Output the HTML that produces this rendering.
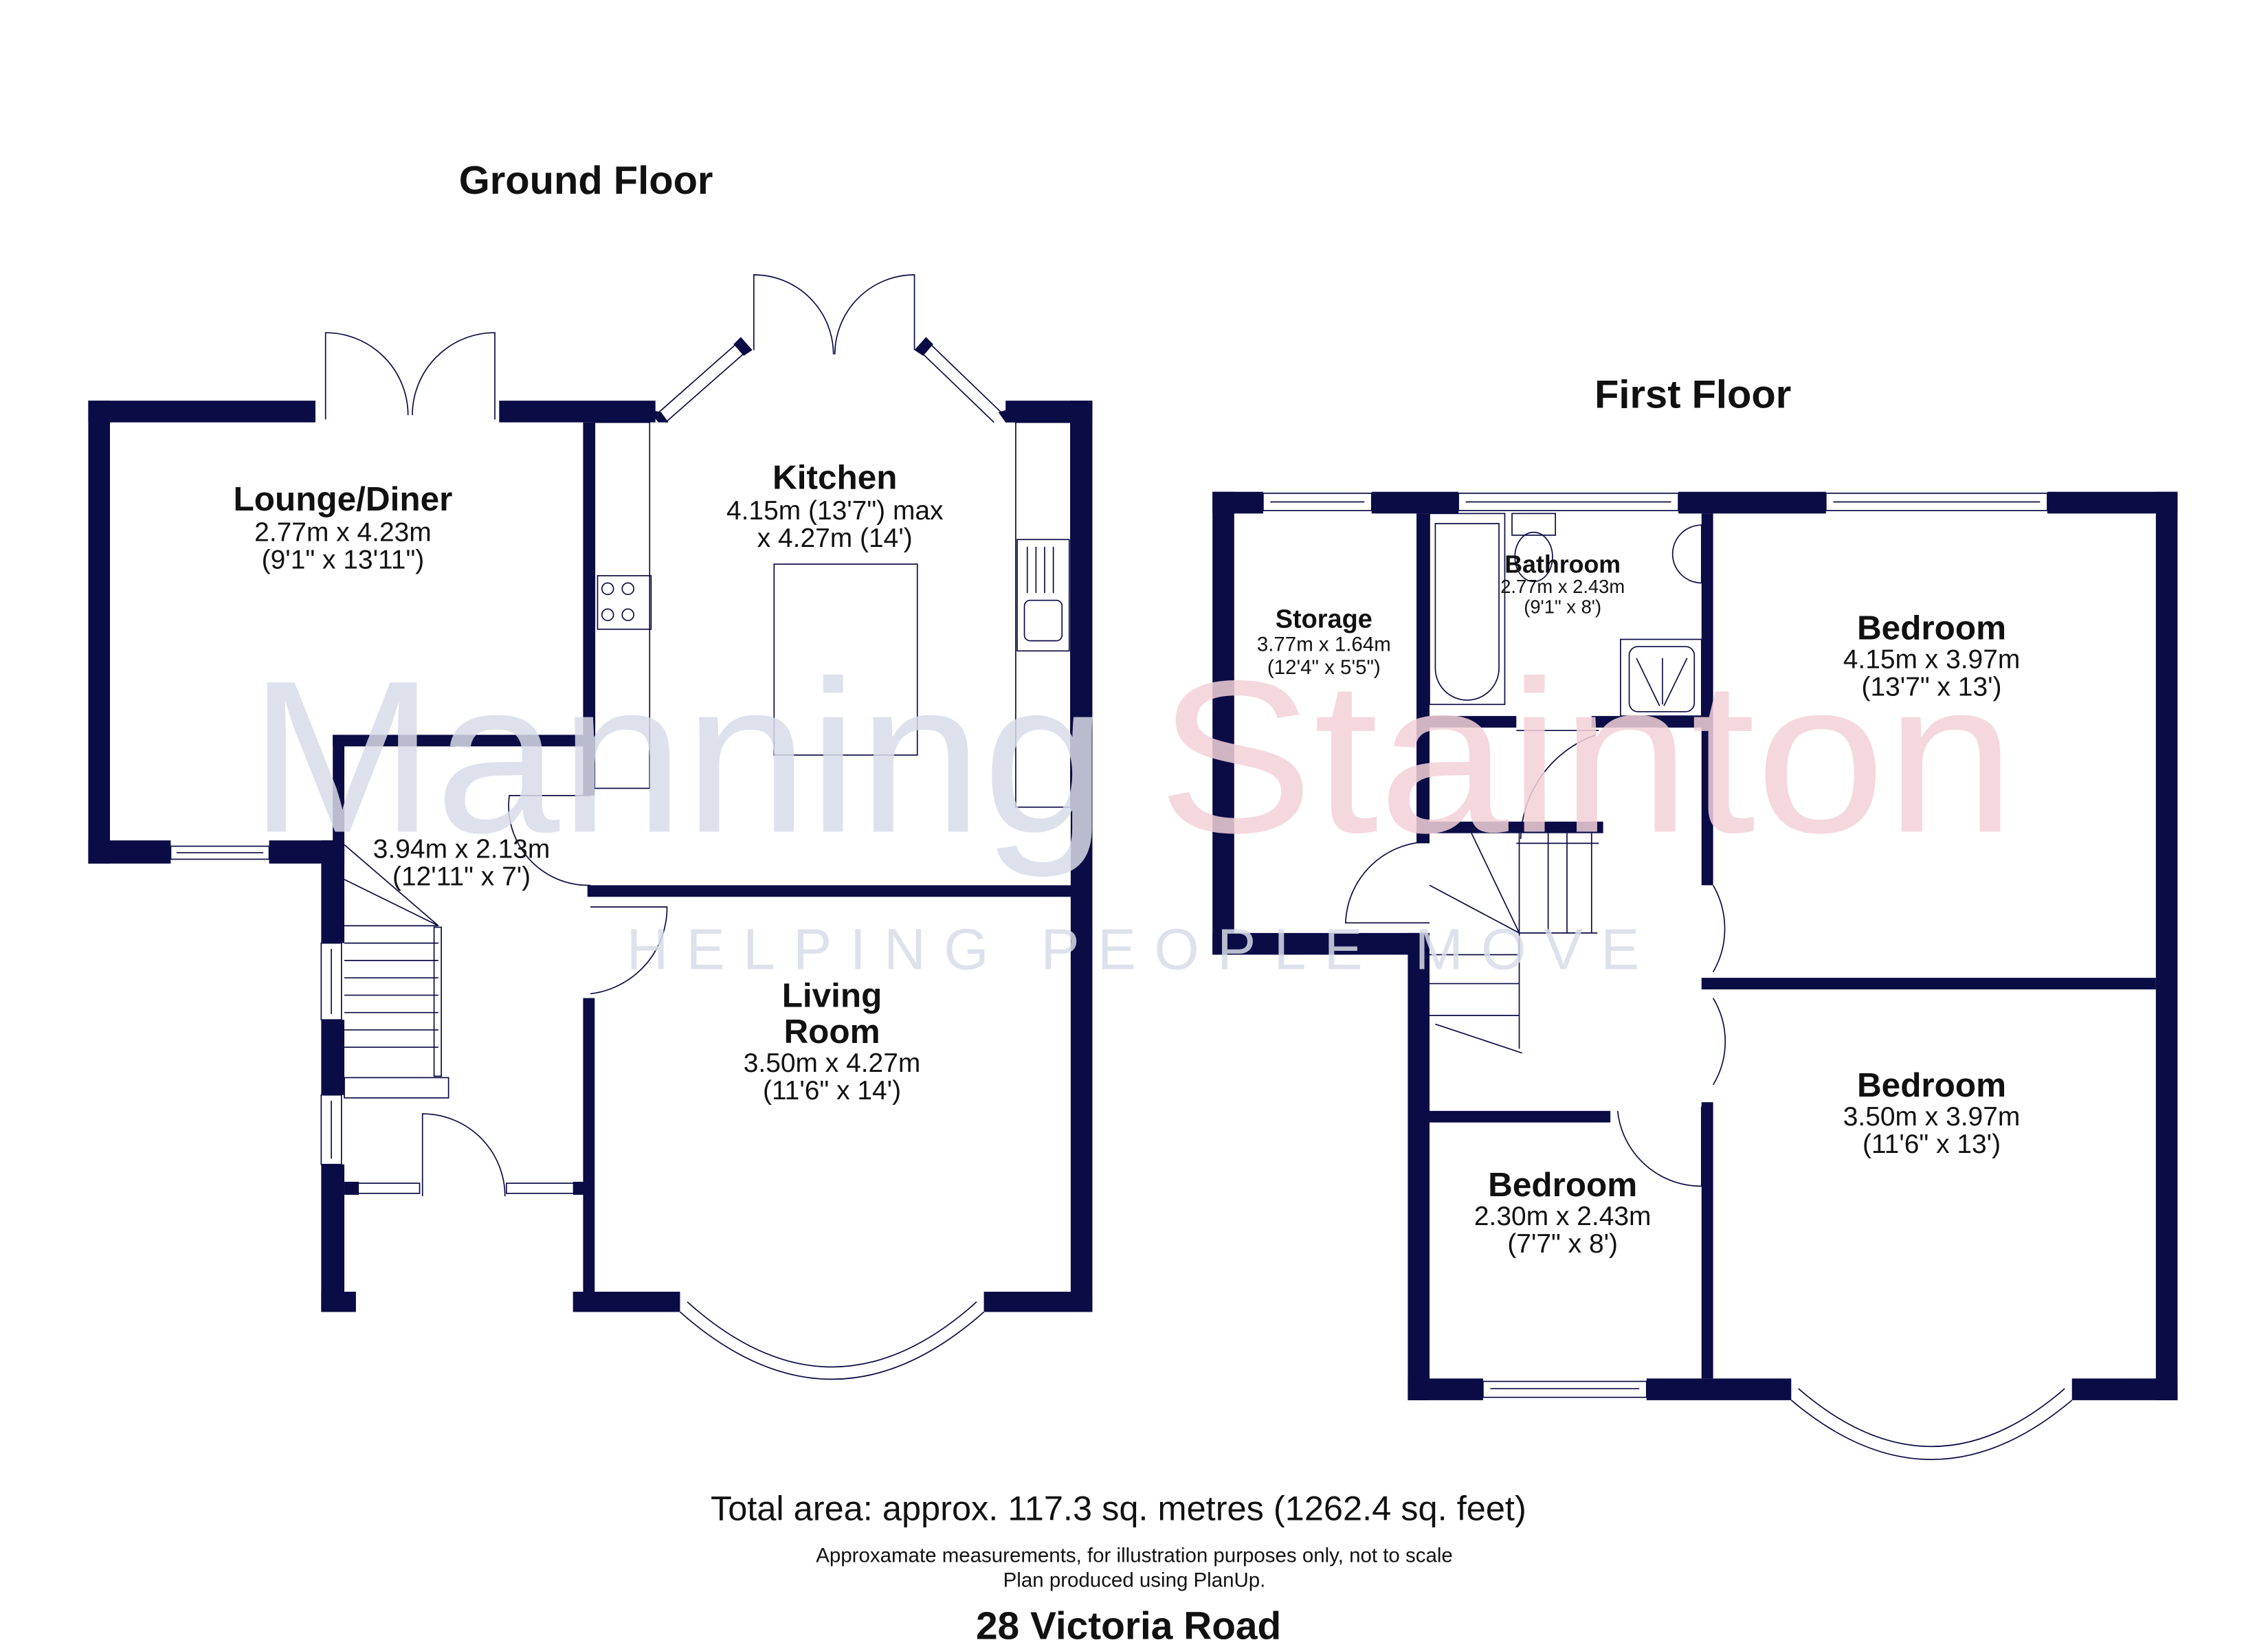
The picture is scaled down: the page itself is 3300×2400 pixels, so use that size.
<!DOCTYPE html>
<html><head><meta charset="utf-8"><style>
html,body{margin:0;padding:0;background:#fff}
svg{display:block}
text{font-family:"Liberation Sans",Arial,sans-serif;fill:#111}
.b{font-weight:bold}
</style></head><body>
<svg width="3300" height="2400" viewBox="0 0 1567.5 1140" preserveAspectRatio="none" xmlns="http://www.w3.org/2000/svg">
<rect width="1600" height="1160" fill="#fff"/>

<g fill="#0b0b45">
<rect x="61" y="277" width="157" height="15"/>
<rect x="345" y="277" width="108" height="15"/>
<rect x="695" y="277" width="60" height="15"/>
<rect x="740" y="277" width="15" height="630"/>
<rect x="61" y="277" width="15" height="320"/>
<rect x="61" y="581" width="57" height="16"/>
<rect x="186" y="581" width="52" height="16"/>
<rect x="222" y="581" width="16" height="71"/>
<rect x="222" y="705" width="16" height="52"/>
<rect x="222" y="805" width="16" height="102"/>
<rect x="222" y="893" width="24" height="14"/>
<rect x="230" y="508" width="178" height="8"/>
<rect x="230" y="508" width="8" height="80"/>
<rect x="403" y="292" width="8" height="258"/>
<rect x="406" y="612" width="335" height="8"/>
<rect x="403" y="690" width="8" height="203"/>
<rect x="396" y="893" width="74" height="14"/>
<rect x="680" y="893" width="75" height="14"/>
<rect x="238" y="817" width="10" height="9"/>
<rect x="396" y="817" width="10" height="9"/>
<rect x="838" y="340" width="35" height="15"/>
<rect x="948" y="340" width="60" height="15"/>
<rect x="1160" y="340" width="102" height="15"/>
<rect x="1415" y="340" width="90" height="15"/>
<rect x="1490" y="340" width="15" height="628"/>
<rect x="838" y="340" width="15" height="320"/>
<rect x="838" y="645" width="150" height="15"/>
<rect x="973" y="645" width="15" height="323"/>
<rect x="973" y="953" width="52" height="15"/>
<rect x="1138" y="953" width="100" height="15"/>
<rect x="1432" y="953" width="73" height="15"/>
<rect x="979" y="355" width="9" height="228"/>
<rect x="988" y="495" width="60" height="8"/>
<rect x="1100" y="495" width="83" height="8"/>
<rect x="988" y="568" width="120" height="8"/>
<rect x="1176" y="355" width="8" height="257"/>
<rect x="1176" y="676" width="314" height="8"/>
<rect x="1176" y="762" width="8" height="191"/>
<rect x="988" y="768" width="125" height="8"/>
<polygon points="448,283 455,292 462,292 457,285"/>
<polygon points="512,233 520,242 514,246 507,238"/>
<polygon points="640,233 632,242 638,246 645,238"/>
<polygon points="690,285 695,292 702,292 697,283"/>
</g>

<g fill="none" stroke="#0b0b45" stroke-width="0.8">
<rect x="118" y="585" width="68" height="9"/><line x1="122" y1="589.5" x2="182" y2="589.5"/>
<rect x="222" y="652" width="14" height="53"/><line x1="229" y1="656" x2="229" y2="701"/>
<rect x="222" y="757" width="14" height="48"/><line x1="229" y1="761" x2="229" y2="801"/>
<rect x="240" y="818" width="50" height="7"/><rect x="350" y="818" width="50" height="7"/>
<path d="M225 290 V230 A57 57 0 0 1 282 287 M342 290 V230 A57 57 0 0 0 285 287"/>
<path d="M452 288 L512 235 M460 292 L518 241 M695 288 L640 235 M687 292 L634 241"/>
<path d="M521 242 V190 A55 55 0 0 1 576 245 M632 242 V190 A55 55 0 0 0 577 245"/>
<rect x="411" y="292" width="38" height="253"/>
<rect x="702" y="292" width="38" height="266"/>
<rect x="535" y="390" width="99" height="132"/>
<circle cx="420" cy="407" r="4"/><circle cx="434" cy="407" r="4"/><circle cx="420" cy="425" r="4"/><circle cx="434" cy="425" r="4"/>
<rect x="413" y="398" width="37" height="37"/>
<rect x="703" y="373" width="36" height="77"/>
<rect x="708" y="415" width="26" height="28" rx="4"/>
<line x1="710" y1="378" x2="710" y2="410"/><line x1="716" y1="378" x2="716" y2="410"/><line x1="722" y1="378" x2="722" y2="410"/><line x1="728" y1="378" x2="728" y2="410"/>
<path d="M408 550 H352 A55 55 0 0 0 408 612"/>
<path d="M408 627 H461 A60 60 0 0 1 408 687"/>
<path d="M292 827 V770 A57 57 0 0 1 349 827"/>
<line x1="238" y1="640" x2="303" y2="640"/><line x1="238" y1="652" x2="303" y2="652"/><line x1="238" y1="664" x2="303" y2="664"/><line x1="238" y1="676" x2="303" y2="676"/><line x1="238" y1="688" x2="303" y2="688"/><line x1="238" y1="700" x2="303" y2="700"/><line x1="238" y1="712" x2="303" y2="712"/><line x1="238" y1="724" x2="303" y2="724"/>
<rect x="300" y="641" width="5" height="103"/>
<rect x="238" y="745" width="72" height="14"/>
<line x1="238" y1="584" x2="303" y2="640"/><line x1="238" y1="608" x2="303" y2="640"/>
<path d="M470 907 Q575 1000 680 907"/><path d="M475 900 Q575 990 675 900"/>
<rect x="873" y="341" width="75" height="12"/><line x1="878" y1="347" x2="943" y2="347"/>
<rect x="1008" y="341" width="152" height="12"/><line x1="1013" y1="347" x2="1155" y2="347"/>
<rect x="1262" y="341" width="153" height="12"/><line x1="1267" y1="347" x2="1410" y2="347"/>
<rect x="1025" y="955" width="113" height="11"/><line x1="1030" y1="960" x2="1133" y2="960"/>
<path d="M1238 968 Q1335 1050 1432 968"/><path d="M1243 960 Q1335 1040 1427 960"/>
<rect x="988" y="355" width="52" height="132"/>
<path d="M992 362 H1036 V462 A22 22 0 0 1 992 462 Z"/>
<rect x="1045" y="355" width="30" height="15"/>
<ellipse cx="1060" cy="385" rx="13" ry="17"/>
<path d="M1176 363 A20 20 0 0 0 1176 403 Z"/>
<rect x="1120" y="442" width="56" height="53"/>
<rect x="1126" y="447" width="45" height="45" rx="6"/>
<path d="M1131 455 L1147 488 M1166 455 L1150 488 M1149 455 V487"/>
<path d="M1048 505 H1105 M1048 583 H1105"/>
<path d="M1103 508 A78 78 0 0 0 1051 580"/>
<path d="M988 582 A58 58 0 0 0 930 638 H988"/>
<path d="M1184 612 A60 60 0 0 1 1184 672"/>
<path d="M1184 690 A58 58 0 0 1 1184 750"/>
<path d="M1176 765 V820 A58 58 0 0 1 1118 768"/>
<line x1="1050" y1="576" x2="1050" y2="645"/><line x1="1070" y1="576" x2="1070" y2="645"/><line x1="1083" y1="576" x2="1083" y2="645"/><line x1="1100" y1="576" x2="1100" y2="645"/>
<line x1="1050" y1="645" x2="1104" y2="645"/>
<line x1="1017" y1="576" x2="1050" y2="645"/><line x1="988" y1="612" x2="1050" y2="645"/>
<line x1="988" y1="660" x2="1050" y2="660"/><line x1="988" y1="680" x2="1050" y2="680"/><line x1="988" y1="702" x2="1050" y2="702"/>
<line x1="1050" y1="645" x2="1050" y2="725"/><line x1="992" y1="708" x2="1052" y2="728"/>
</g>

<g opacity="0.85">
<text x="172" y="575" font-size="150" textLength="593" lengthAdjust="spacingAndGlyphs" style="fill:#d8dce8">Manning</text>
<text x="800" y="575" font-size="150" textLength="593" lengthAdjust="spacingAndGlyphs" style="fill:#f3d2d8">Stainton</text>
<text x="433" y="670" font-size="40" textLength="700" style="fill:#d8dce8">HELPING PEOPLE MOVE</text>
</g>

<g text-anchor="middle">
<text x="405" y="134" font-size="27.5" class="b">Ground Floor</text>
<text x="1170" y="282" font-size="27.5" class="b">First Floor</text>
<text x="237" y="353" font-size="23.5" class="b">Lounge/Diner</text>
<text x="237" y="374" font-size="18.5">2.77m x 4.23m</text>
<text x="237" y="393" font-size="18.5">(9'1" x 13'11")</text>
<text x="577" y="338" font-size="23.5" class="b">Kitchen</text>
<text x="577" y="359" font-size="18.5">4.15m (13'7") max</text>
<text x="577" y="378" font-size="18.5">x 4.27m (14')</text>
<text x="319" y="593" font-size="18.5">3.94m x 2.13m</text>
<text x="319" y="612" font-size="18.5">(12'11" x 7')</text>
<text x="575" y="696" font-size="23.5" class="b">Living</text>
<text x="575" y="721" font-size="23.5" class="b">Room</text>
<text x="575" y="741" font-size="18.5">3.50m x 4.27m</text>
<text x="575" y="760" font-size="18.5">(11'6" x 14')</text>
<text x="915" y="434" font-size="18" class="b">Storage</text>
<text x="915" y="450" font-size="14">3.77m x 1.64m</text>
<text x="915" y="466" font-size="14">(12'4" x 5'5")</text>
<text x="1080" y="396" font-size="17" class="b">Bathroom</text>
<text x="1080" y="410" font-size="13">2.77m x 2.43m</text>
<text x="1080" y="424" font-size="13">(9'1" x 8')</text>
<text x="1335" y="442" font-size="23.5" class="b">Bedroom</text>
<text x="1335" y="462" font-size="18.5">4.15m x 3.97m</text>
<text x="1335" y="481" font-size="18.5">(13'7" x 13')</text>
<text x="1335" y="758" font-size="23.5" class="b">Bedroom</text>
<text x="1335" y="778" font-size="18.5">3.50m x 3.97m</text>
<text x="1335" y="797" font-size="18.5">(11'6" x 13')</text>
<text x="1080" y="827" font-size="23.5" class="b">Bedroom</text>
<text x="1080" y="847" font-size="18.5">2.30m x 2.43m</text>
<text x="1080" y="866" font-size="18.5">(7'7" x 8')</text>
<text x="773" y="1051" font-size="24">Total area: approx. 117.3 sq. metres (1262.4 sq. feet)</text>
<text x="784" y="1080" font-size="14">Approxamate measurements, for illustration purposes only, not to scale</text>
<text x="784" y="1097" font-size="14">Plan produced using PlanUp.</text>
<text x="780" y="1133" font-size="27" class="b">28 Victoria Road</text>
</g>
</svg>
</body></html>
